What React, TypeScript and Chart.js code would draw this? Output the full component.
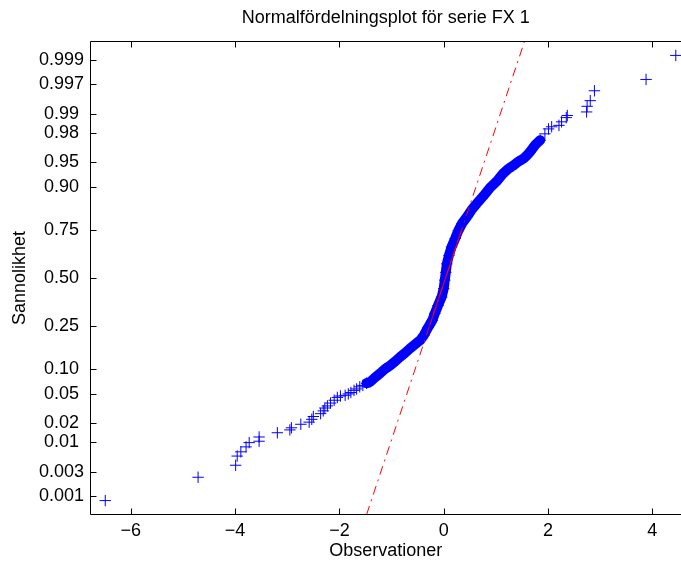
import React, { useEffect, useRef } from "react";
import { Chart, registerables } from "chart.js";

Chart.register(...registerables);

// ---------- text ----------
const TITLE = "Normalfördelningsplot för serie FX 1";
const X_LABEL = "Observationer";
const Y_LABEL = "Sannolikhet";

// ---------- axes ----------
const xLimits = [-6.773, 4.55];
const zLimits = [-3.347, 3.347]; // normal-score limits of the probability axis
const xTickValues = [-6, -4, -2, 0, 2, 4];
const xTickLabels = ["−6", "−4", "−2", "0", "2", "4"];
const yTickProbs = [0.001, 0.003, 0.01, 0.02, 0.05, 0.1, 0.25, 0.5, 0.75, 0.9, 0.95, 0.98, 0.99, 0.997, 0.999];
const yTickLabels = ["0.001", "0.003", "0.01 ", "0.02 ", "0.05 ", "0.10 ", "0.25 ", "0.50 ", "0.75 ", "0.90 ", "0.95 ", "0.98 ", "0.99 ", "0.997", "0.999"];

// ---------- data (sorted observations and their normal scores) ----------
const observations = [
  -6.49, -4.71, -3.99, -3.96, -3.89, -3.79, -3.73, -3.54, -3.54, -3.19,
  -2.95, -2.92, -2.74, -2.58, -2.53, -2.5, -2.36, -2.31, -2.28, -2.23,
  -2.17, -2.1, -2.04, -1.98, -1.89, -1.83, -1.78, -1.72, -1.67, -1.61,
  -1.55, -1.48, -1.41, -1.32, -1.22, -1.13, -1.03, -0.93, -0.84, -0.74,
  -0.65, -0.55, -0.45, -0.38, -0.3, -0.22, -0.17, -0.11, -0.04, 0.0,
  0.02, 0.04, 0.06, 0.1, 0.15, 0.22, 0.28, 0.35, 0.44, 0.53,
  0.63, 0.76, 0.89, 1.02, 1.14, 1.23, 1.33, 1.42, 1.53, 1.6,
  1.65, 1.75, 1.85, 1.94, 2.01, 2.07, 2.21, 2.26, 2.35, 2.37,
  2.74, 2.75, 2.81, 2.89, 3.88, 4.45,
];
const normalScores = [
  -3.15, -2.82, -2.65, -2.52, -2.46, -2.39, -2.33, -2.31, -2.25, -2.19,
  -2.15, -2.12, -2.07, -2.04, -2.0, -1.96, -1.92, -1.88, -1.84, -1.81,
  -1.77, -1.73, -1.69, -1.67, -1.66, -1.64, -1.62, -1.59, -1.57, -1.54,
  -1.52, -1.49, -1.47, -1.41, -1.35, -1.29, -1.24, -1.18, -1.12, -1.06,
  -1.0, -0.94, -0.88, -0.81, -0.7, -0.6, -0.5, -0.39, -0.27, -0.15,
  -0.03, 0.08, 0.2, 0.32, 0.44, 0.56, 0.67, 0.77, 0.86, 0.96,
  1.05, 1.16, 1.28, 1.37, 1.48, 1.54, 1.59, 1.64, 1.69, 1.74,
  1.78, 1.88, 1.95, 2.04, 2.11, 2.14, 2.16, 2.21, 2.27, 2.3,
  2.35, 2.43, 2.51, 2.65, 2.81, 3.15,
];
// range of observations where the markers overlap into a solid band
const denseRange = [-1.5, 1.9];

// reference line through the quartiles
const quartileObs = [-0.27, 0.34];
const quartileProbs = [0.25, 0.75];

// ---------- helpers ----------
function probit(p: number): number {
  const a = [-3.969683028665376e1, 2.209460984245205e2, -2.759285104469687e2, 1.38357751867269e2, -3.066479806614716e1, 2.506628277459239];
  const b = [-5.447609879822406e1, 1.615858368580409e2, -1.556989798598866e2, 6.680131188771972e1, -1.328068155288572e1];
  const c = [-7.784894002430293e-3, -3.223964580411365e-1, -2.400758277161838, -2.549671324505839, 4.374664141464968, 2.938163982698783];
  const d = [7.784695709041462e-3, 3.224671290700398e-1, 2.445134137142996, 3.754408661907416];
  const plow = 0.02425;
  if (p < plow) {
    const q = Math.sqrt(-2 * Math.log(p));
    return (((((c[0] * q + c[1]) * q + c[2]) * q + c[3]) * q + c[4]) * q + c[5]) / ((((d[0] * q + d[1]) * q + d[2]) * q + d[3]) * q + 1);
  }
  if (p <= 1 - plow) {
    const q = p - 0.5;
    const r = q * q;
    return ((((((a[0] * r + a[1]) * r + a[2]) * r + a[3]) * r + a[4]) * r + a[5]) * q) / (((((b[0] * r + b[1]) * r + b[2]) * r + b[3]) * r + b[4]) * r + 1);
  }
  const q = Math.sqrt(-2 * Math.log(1 - p));
  return -(((((c[0] * q + c[1]) * q + c[2]) * q + c[3]) * q + c[4]) * q + c[5]) / ((((d[0] * q + d[1]) * q + d[2]) * q + d[3]) * q + 1);
}

const FONT = "'Liberation Sans', Arial, Helvetica, sans-serif";
const BLUE = "#0000ff";
const RED = "#ff0000";

const framePlugin = {
  id: "matlabFrame",
  afterDraw(chart: any) {
    const { ctx, chartArea } = chart;
    const { left, right, top, bottom } = chartArea;
    const xs = chart.scales.x;
    const ys = chart.scales.y;
    const L = Math.floor(left) + 0.5;
    const T = Math.floor(top) + 0.5;
    const B = Math.floor(bottom) + 0.5;
    const R = Math.ceil(right) + 0.5;
    ctx.save();
    ctx.strokeStyle = "#000";
    ctx.lineWidth = 1;
    ctx.beginPath();
    ctx.moveTo(R, T);
    ctx.lineTo(L, T);
    ctx.lineTo(L, B);
    ctx.lineTo(R, B);
    const tl = 6;
    xTickValues.forEach((v) => {
      const px = Math.round(xs.getPixelForValue(v)) + 0.5;
      ctx.moveTo(px, B);
      ctx.lineTo(px, B - tl);
      ctx.moveTo(px, T);
      ctx.lineTo(px, T + tl);
    });
    yTickProbs.forEach((p) => {
      const py = Math.round(ys.getPixelForValue(probit(p))) + 0.5;
      ctx.moveTo(L, py);
      ctx.lineTo(L + tl, py);
    });
    ctx.stroke();
    ctx.restore();
  },
};

export default function App() {
  const ref = useRef<HTMLCanvasElement | null>(null);

  useEffect(() => {
    if (!ref.current) return;
    const pts = observations.map((x, i) => ({ x, y: normalScores[i] }));
    const band = pts.filter((p) => p.x >= denseRange[0] && p.x <= denseRange[1]);

    const zq1 = probit(quartileProbs[0]);
    const zq3 = probit(quartileProbs[1]);
    const slope = (quartileObs[1] - quartileObs[0]) / (zq3 - zq1);
    const lineAt = (z: number) => quartileObs[0] + (z - zq1) * slope;
    const refExt = [
      { x: lineAt(zLimits[0]), y: zLimits[0] },
      { x: lineAt(zLimits[1]), y: zLimits[1] },
    ];
    const refMid = [
      { x: quartileObs[0], y: zq1 },
      { x: quartileObs[1], y: zq3 },
    ];

    const chart = new Chart(ref.current, {
      type: "scatter",
      data: {
        datasets: [
          {
            data: refMid,
            showLine: true,
            borderColor: RED,
            borderWidth: 1,
            pointRadius: 0,
          },
          {
            data: refExt,
            showLine: true,
            borderColor: RED,
            borderWidth: 1,
            borderDash: [9, 5, 2, 5],
            pointRadius: 0,
          },
          {
            data: pts,
            showLine: false,
            pointStyle: "cross",
            pointRadius: 5.7,
            pointBorderWidth: 1,
            borderColor: BLUE,
            backgroundColor: BLUE,
          },
          {
            data: band,
            showLine: true,
            borderColor: BLUE,
            borderWidth: 10,
            borderJoinStyle: "round",
            borderCapStyle: "round",
            pointRadius: 0,
          },
        ],
      } as any,
      options: {
        responsive: false,
        animation: false,
        events: [],
        layout: { autoPadding: false, padding: { left: 0, right: 0, top: 0, bottom: 0 } },
        plugins: {
          legend: { display: false },
          tooltip: { enabled: false },
          title: {
            display: true,
            text: TITLE,
            fullSize: false,
            color: "#000",
            font: { family: FONT, size: 18, weight: "normal" },
            padding: { top: 7.5, bottom: 12.4 },
          },
        },
        scales: {
          x: {
            type: "linear",
            min: xLimits[0],
            max: xLimits[1],
            grid: { display: false, drawTicks: false },
            border: { display: false },
            afterBuildTicks: (s: any) => {
              s.ticks = xTickValues.map((v) => ({ value: v }));
            },
            afterFit: (s: any) => {
              s.height = 48.5;
              s.paddingLeft = 0;
              s.paddingRight = 0;
            },
            ticks: {
              color: "#000",
              padding: 6,
              maxRotation: 0,
              font: { family: FONT, size: 18 },
              callback: (_v: any, i: number) => xTickLabels[i],
            },
            title: {
              display: true,
              text: X_LABEL,
              color: "#000",
              font: { family: FONT, size: 18 },
              padding: { top: 0, bottom: 1.2 },
            },
          },
          y: {
            type: "linear",
            min: zLimits[0],
            max: zLimits[1],
            grid: { display: false, drawTicks: false },
            border: { display: false },
            afterBuildTicks: (s: any) => {
              s.ticks = yTickProbs.map((p) => ({ value: probit(p) }));
            },
            afterFit: (s: any) => {
              s.width = 90.5;
              s.paddingTop = 0;
              s.paddingBottom = 0;
            },
            ticks: {
              color: "#000",
              padding: 6.5,
              font: { family: FONT, size: 18 },
              callback: (_v: any, i: number) => yTickLabels[i],
            },
            title: {
              display: true,
              text: Y_LABEL,
              color: "#000",
              font: { family: FONT, size: 18 },
              padding: { top: 9.2, bottom: 0 },
            },
          },
        },
      } as any,
      plugins: [framePlugin],
    });
    return () => chart.destroy();
  }, []);

  return (
    <div style={{ position: "fixed", left: 0, top: 0, width: 681, height: 563, overflow: "hidden", background: "#fff" }}>
      <canvas ref={ref} width={681} height={563} style={{ display: "block" }} />
    </div>
  );
}
